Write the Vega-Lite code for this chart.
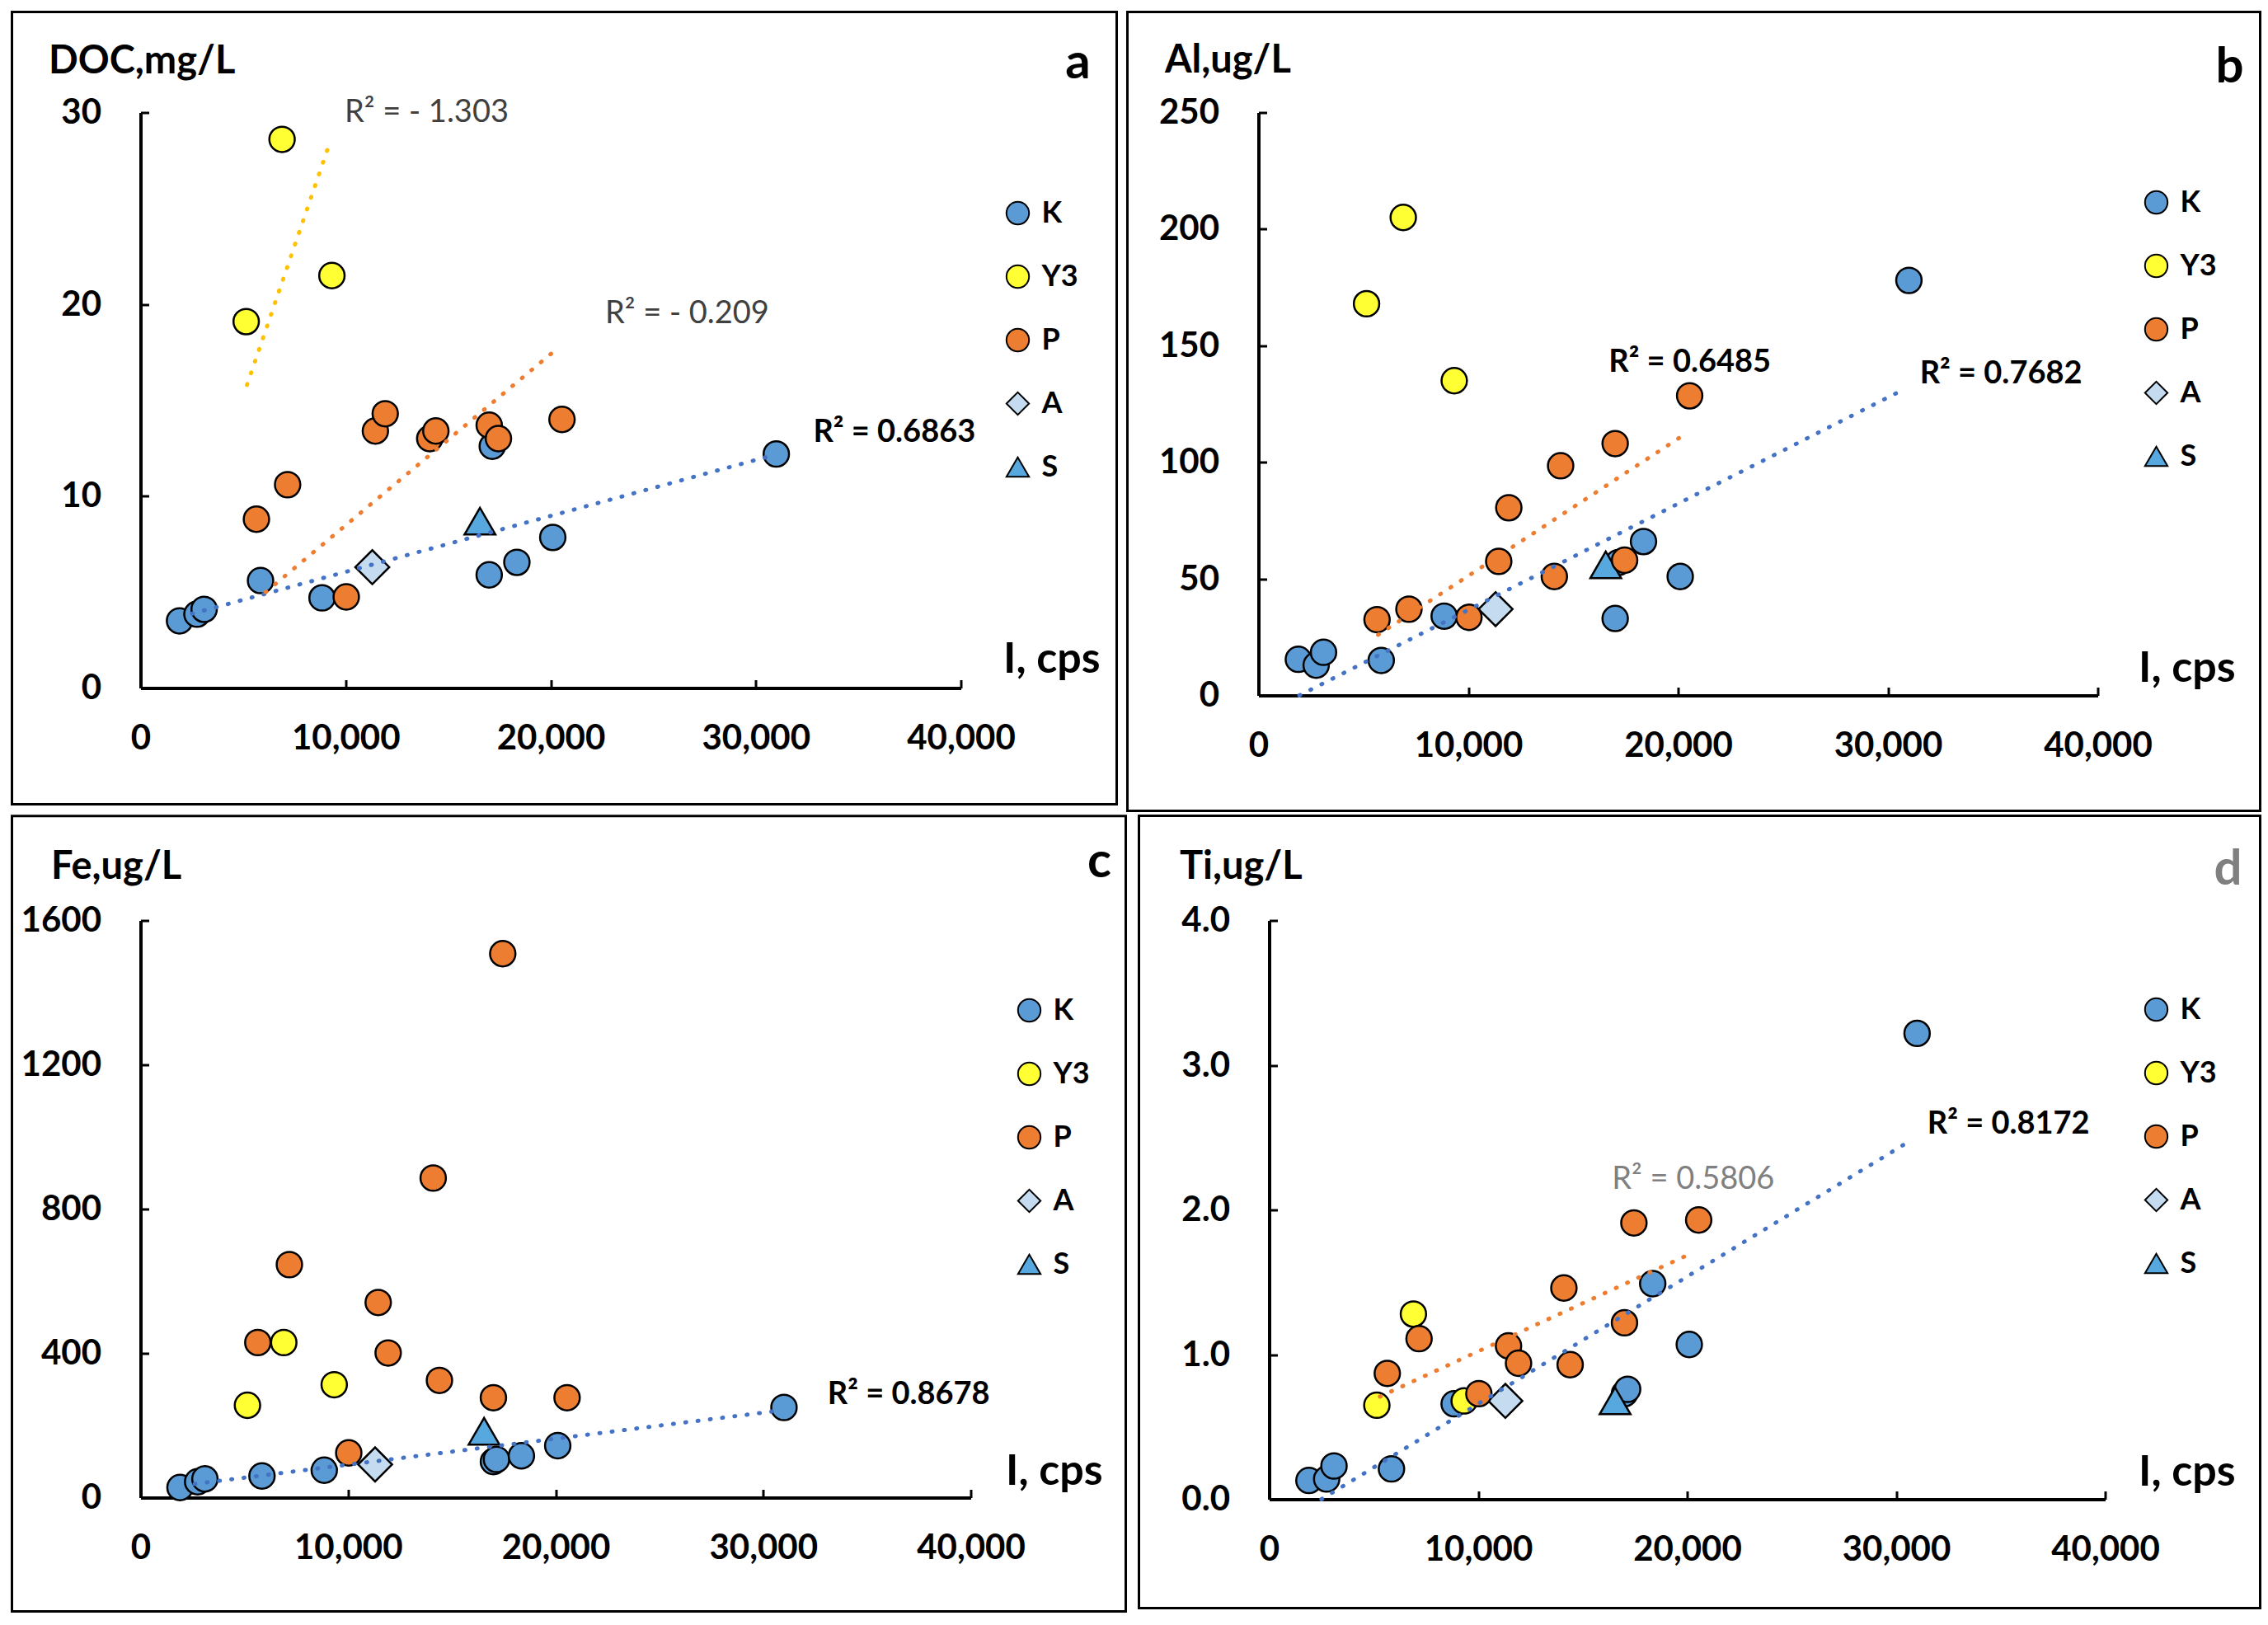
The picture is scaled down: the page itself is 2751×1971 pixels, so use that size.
{
  "$schema": "https://vega.github.io/schema/vega-lite/v6.json",
  "background": "white",
  "padding": {"left": 12.5, "top": 12.5, "right": 0, "bottom": 0},
  "datasets": {
    "pts": [
      {"g": "K", "I": 1900, "DOC": 3.5, "Al": 15.5, "Fe": 28, "Ti": 0.13},
      {"g": "K", "I": 2750, "DOC": 3.85, "Al": 13, "Fe": 44, "Ti": 0.14},
      {"g": "K", "I": 3100, "DOC": 4.1, "Al": 18.5, "Fe": 52, "Ti": 0.23},
      {"g": "K", "I": 5850, "DOC": 5.6, "Al": 15, "Fe": 60, "Ti": 0.21},
      {"g": "K", "I": 8850, "DOC": 4.7, "Al": 34, "Fe": 76, "Ti": 0.66},
      {"g": "K", "I": 17000, "DOC": 5.9, "Al": 33, "Fe": 100, "Ti": 0.73},
      {"g": "K", "I": 17150, "DOC": 12.6, "Al": 57, "Fe": 106, "Ti": 0.76},
      {"g": "K", "I": 18350, "DOC": 6.55, "Al": 66, "Fe": 116, "Ti": 1.49},
      {"g": "K", "I": 20100, "DOC": 7.85, "Al": 51, "Fe": 144, "Ti": 1.07},
      {"g": "K", "I": 31000, "DOC": 12.2, "Al": 178, "Fe": 250, "Ti": 3.22},
      {"g": "Y3", "I": 5150, "DOC": 19.1, "Al": 168, "Fe": 256, "Ti": 0.65},
      {"g": "Y3", "I": 6900, "DOC": 28.6, "Al": 205, "Fe": 430, "Ti": 1.28},
      {"g": "Y3", "I": 9330, "DOC": 21.5, "Al": 135, "Fe": 313, "Ti": 0.68},
      {"g": "A", "I": 11300, "DOC": 6.3, "Al": 37, "Fe": 92, "Ti": 0.68},
      {"g": "S", "I": 16550, "DOC": 8.7, "Al": 56, "Fe": 184, "Ti": 0.68},
      {"g": "P", "I": 5650, "DOC": 8.8, "Al": 32.5, "Fe": 430, "Ti": 0.87},
      {"g": "P", "I": 7170, "DOC": 10.6, "Al": 37, "Fe": 646, "Ti": 1.11},
      {"g": "P", "I": 10030, "DOC": 4.75, "Al": 33.5, "Fe": 124, "Ti": 0.73},
      {"g": "P", "I": 11450, "DOC": 13.4, "Al": 57.5, "Fe": 541, "Ti": 1.06},
      {"g": "P", "I": 11930, "DOC": 14.3, "Al": 80.5, "Fe": 401, "Ti": 0.94},
      {"g": "P", "I": 14100, "DOC": 13.0, "Al": 51, "Fe": 886, "Ti": 1.46},
      {"g": "P", "I": 14400, "DOC": 13.4, "Al": 98.5, "Fe": 325, "Ti": 0.93},
      {"g": "P", "I": 17000, "DOC": 13.7, "Al": 108, "Fe": 277, "Ti": 1.22},
      {"g": "P", "I": 17450, "DOC": 13.0, "Al": 58, "Fe": 1508, "Ti": 1.91},
      {"g": "P", "I": 20550, "DOC": 14.0, "Al": 128.5, "Fe": 277, "Ti": 1.93}
    ],
    "trend": [
      {"panel": "a", "g": "K", "I": 2510, "v": 3.87},
      {"panel": "a", "g": "K", "I": 30730, "v": 12.1},
      {"panel": "a", "g": "P", "I": 6100, "v": 5.0},
      {"panel": "a", "g": "P", "I": 20100, "v": 17.5},
      {"panel": "a", "g": "Y3", "I": 5190, "v": 15.8},
      {"panel": "a", "g": "Y3", "I": 9250, "v": 28.5},
      {"panel": "b", "g": "K", "I": 1950, "v": 0},
      {"panel": "b", "g": "K", "I": 30700, "v": 131},
      {"panel": "b", "g": "P", "I": 5700, "v": 26},
      {"panel": "b", "g": "P", "I": 20400, "v": 112.5},
      {"panel": "c", "g": "K", "I": 2600, "v": 38},
      {"panel": "c", "g": "K", "I": 30600, "v": 240},
      {"panel": "d", "g": "K", "I": 2500, "v": 0},
      {"panel": "d", "g": "K", "I": 30700, "v": 2.48},
      {"panel": "d", "g": "P", "I": 5300, "v": 0.71},
      {"panel": "d", "g": "P", "I": 20200, "v": 1.70}
    ]
  },
  "resolve": {
    "scale": {"fill": "independent", "shape": "independent", "color": "independent", "stroke": "independent"},
    "legend": {"fill": "independent", "shape": "independent", "color": "independent", "stroke": "independent"}
  },
  "vconcat": [
    {
      "resolve": {
        "scale": {"fill": "independent", "shape": "independent", "color": "independent", "stroke": "independent"},
        "legend": {"fill": "independent", "shape": "independent", "color": "independent", "stroke": "independent"}
      },
      "hconcat": [
        {
          "width": 995, "height": 698,
          "layer": [
            {
              "data": {"values": [{}]},
              "mark": {"type": "rect", "fill": "transparent", "stroke": "black", "strokeWidth": 3},
              "encoding": {
                "x": {"datum": -6271, "type": "quantitative"}, "x2": {"datum": 47598},
                "y": {"datum": 35.24, "type": "quantitative"}, "y2": {"datum": -6.06}
              }
            },
            {
              "data": {"name": "pts"},
              "mark": {"type": "point", "filled": true, "strokeWidth": 2.5, "opacity": 1},
              "encoding": {
                "x": {"field": "I", "type": "quantitative", "title": "I, cps", "scale": {"domain": [0, 40000], "nice": false}, "axis": {"values": [0, 10000, 20000, 30000, 40000], "format": ",.0f", "titleX": 1046, "titleY": -35}},
                "y": {"field": "DOC", "type": "quantitative", "title": "DOC,mg/L", "scale": {"domain": [0, 30], "nice": false}, "axis": {"values": [0, 10, 20, 30], "format": "d", "titleX": -112, "titleY": -62}},
                "fill": {"field": "g", "type": "nominal", "scale": {"domain": ["K", "Y3", "P", "A", "S"], "range": ["#5B9BD5", "#FFFF33", "#ED7D31", "#C5DCF0", "#56A8DE"]}, "legend": {"orient": "none", "legendX": 1046, "legendY": 104, "title": null}},
                "shape": {"field": "g", "type": "nominal", "scale": {"domain": ["K", "Y3", "P", "A", "S"], "range": ["circle", "circle", "circle", "diamond", "triangle-up"]}, "legend": {"orient": "none", "legendX": 1046, "legendY": 104, "title": null}},
                "stroke": {"field": "g", "type": "nominal", "scale": {"domain": ["K", "Y3", "P", "A", "S"], "range": ["black", "black", "black", "black", "black"]}, "legend": {"orient": "none", "legendX": 1046, "legendY": 104, "title": null}},
                "size": {"condition": [{"test": "datum.g === 'A'", "value": 1700}, {"test": "datum.g === 'S'", "value": 1400}], "value": 950}
              }
            },
            {
              "data": {"name": "trend"},
              "transform": [{"filter": "datum.panel == 'a'"}],
              "mark": {"type": "line", "strokeDash": [1, 14], "strokeCap": "round", "strokeWidth": 5},
              "encoding": {
                "x": {"field": "I", "type": "quantitative", "title": "I, cps"},
                "y": {"field": "v", "type": "quantitative", "title": "DOC,mg/L"},
                "color": {"field": "g", "type": "nominal", "scale": {"domain": ["K", "Y3", "P"], "range": ["#4472C4", "#FFC000", "#ED7D31"]}, "legend": null},
                "detail": {"field": "g"}
              }
            },
            {
              "data": {"values": [{}]},
              "mark": {"type": "text", "align": "left", "baseline": "middle", "fontSize": 38, "font": "Lato", "color": "#404040"},
              "encoding": {"x": {"datum": 9950, "type": "quantitative"}, "y": {"datum": 30.0, "type": "quantitative"}, "text": {"value": "R² =  - 1.303"}}
            },
            {
              "data": {"values": [{}]},
              "mark": {"type": "text", "align": "left", "baseline": "middle", "fontSize": 38, "font": "Lato", "color": "#404040"},
              "encoding": {"x": {"datum": 22650, "type": "quantitative"}, "y": {"datum": 19.5, "type": "quantitative"}, "text": {"value": "R² = - 0.209"}}
            },
            {
              "data": {"values": [{}]},
              "mark": {"type": "text", "align": "left", "baseline": "middle", "fontSize": 38, "font": "Lato", "fontWeight": "bold", "color": "black"},
              "encoding": {"x": {"datum": 32800, "type": "quantitative"}, "y": {"datum": 13.3, "type": "quantitative"}, "text": {"value": "R² = 0.6863"}}
            },
            {
              "data": {"values": [{}]},
              "mark": {"type": "text", "align": "center", "baseline": "alphabetic", "fontSize": 60, "font": "Lato", "fontWeight": "bold", "color": "black"},
              "encoding": {"x": {"datum": 45709, "type": "quantitative"}, "y": {"datum": 31.8, "type": "quantitative"}, "text": {"value": "a"}}
            }
          ]
        },
        {
          "width": 1018, "height": 707,
          "layer": [
            {
              "data": {"values": [{}]},
              "mark": {"type": "rect", "fill": "transparent", "stroke": "black", "strokeWidth": 3},
              "encoding": {
                "x": {"datum": -6248, "type": "quantitative"}, "x2": {"datum": 47741},
                "y": {"datum": 293.1, "type": "quantitative"}, "y2": {"datum": -49.5}
              }
            },
            {
              "data": {"name": "pts"},
              "mark": {"type": "point", "filled": true, "strokeWidth": 2.5, "opacity": 1},
              "encoding": {
                "x": {"field": "I", "type": "quantitative", "title": "I, cps", "scale": {"domain": [0, 40000], "nice": false}, "axis": {"values": [0, 10000, 20000, 30000, 40000], "format": ",.0f", "titleX": 1067, "titleY": -33}},
                "y": {"field": "Al", "type": "quantitative", "title": "Al,ug/L", "scale": {"domain": [0, 250], "nice": false}, "axis": {"values": [0, 50, 100, 150, 200, 250], "format": "d", "titleX": -114, "titleY": -63}},
                "fill": {"field": "g", "type": "nominal", "scale": {"domain": ["K", "Y3", "P", "A", "S"], "range": ["#5B9BD5", "#FFFF33", "#ED7D31", "#C5DCF0", "#56A8DE"]}, "legend": {"orient": "none", "legendX": 1071, "legendY": 91, "title": null}},
                "shape": {"field": "g", "type": "nominal", "scale": {"domain": ["K", "Y3", "P", "A", "S"], "range": ["circle", "circle", "circle", "diamond", "triangle-up"]}, "legend": {"orient": "none", "legendX": 1071, "legendY": 91, "title": null}},
                "stroke": {"field": "g", "type": "nominal", "scale": {"domain": ["K", "Y3", "P", "A", "S"], "range": ["black", "black", "black", "black", "black"]}, "legend": {"orient": "none", "legendX": 1071, "legendY": 91, "title": null}},
                "size": {"condition": [{"test": "datum.g === 'A'", "value": 1700}, {"test": "datum.g === 'S'", "value": 1400}], "value": 950}
              }
            },
            {
              "data": {"name": "trend"},
              "transform": [{"filter": "datum.panel == 'b'"}],
              "mark": {"type": "line", "strokeDash": [1, 14], "strokeCap": "round", "strokeWidth": 5},
              "encoding": {
                "x": {"field": "I", "type": "quantitative", "title": "I, cps"},
                "y": {"field": "v", "type": "quantitative", "title": "Al,ug/L"},
                "color": {"field": "g", "type": "nominal", "scale": {"domain": ["K", "Y3", "P"], "range": ["#4472C4", "#FFC000", "#ED7D31"]}, "legend": null},
                "detail": {"field": "g"}
              }
            },
            {
              "data": {"values": [{}]},
              "mark": {"type": "text", "align": "left", "baseline": "middle", "fontSize": 38, "font": "Lato", "fontWeight": "bold", "color": "black"},
              "encoding": {"x": {"datum": 16690, "type": "quantitative"}, "y": {"datum": 142.7, "type": "quantitative"}, "text": {"value": "R² = 0.6485"}}
            },
            {
              "data": {"values": [{}]},
              "mark": {"type": "text", "align": "left", "baseline": "middle", "fontSize": 38, "font": "Lato", "fontWeight": "bold", "color": "black"},
              "encoding": {"x": {"datum": 31520, "type": "quantitative"}, "y": {"datum": 137.7, "type": "quantitative"}, "text": {"value": "R² = 0.7682"}}
            },
            {
              "data": {"values": [{}]},
              "mark": {"type": "text", "align": "center", "baseline": "alphabetic", "fontSize": 60, "font": "Lato", "fontWeight": "bold", "color": "black"},
              "encoding": {"x": {"datum": 46287, "type": "quantitative"}, "y": {"datum": 263, "type": "quantitative"}, "text": {"value": "b"}}
            }
          ]
        }
      ],
      "spacing": 361,
      "bounds": "flush"
    },
    {
      "resolve": {
        "scale": {"fill": "independent", "shape": "independent", "color": "independent", "stroke": "independent"},
        "legend": {"fill": "independent", "shape": "independent", "color": "independent", "stroke": "independent"}
      },
      "hconcat": [
        {
          "width": 1007, "height": 700,
          "layer": [
            {
              "data": {"values": [{}]},
              "mark": {"type": "rect", "fill": "transparent", "stroke": "black", "strokeWidth": 3},
              "encoding": {
                "x": {"datum": -6197, "type": "quantitative"}, "x2": {"datum": 47468},
                "y": {"datum": 1890, "type": "quantitative"}, "y2": {"datum": -315.4}
              }
            },
            {
              "data": {"name": "pts"},
              "mark": {"type": "point", "filled": true, "strokeWidth": 2.5, "opacity": 1},
              "encoding": {
                "x": {"field": "I", "type": "quantitative", "title": "I, cps", "scale": {"domain": [0, 40000], "nice": false}, "axis": {"values": [0, 10000, 20000, 30000, 40000], "format": ",.0f", "titleX": 1049, "titleY": -32}},
                "y": {"field": "Fe", "type": "quantitative", "title": "Fe,ug/L", "scale": {"domain": [0, 1600], "nice": false}, "axis": {"values": [0, 400, 800, 1200, 1600], "format": "d", "titleX": -109, "titleY": -65}},
                "fill": {"field": "g", "type": "nominal", "scale": {"domain": ["K", "Y3", "P", "A", "S"], "range": ["#5B9BD5", "#FFFF33", "#ED7D31", "#C5DCF0", "#56A8DE"]}, "legend": {"orient": "none", "legendX": 1060, "legendY": 91, "title": null}},
                "shape": {"field": "g", "type": "nominal", "scale": {"domain": ["K", "Y3", "P", "A", "S"], "range": ["circle", "circle", "circle", "diamond", "triangle-up"]}, "legend": {"orient": "none", "legendX": 1060, "legendY": 91, "title": null}},
                "stroke": {"field": "g", "type": "nominal", "scale": {"domain": ["K", "Y3", "P", "A", "S"], "range": ["black", "black", "black", "black", "black"]}, "legend": {"orient": "none", "legendX": 1060, "legendY": 91, "title": null}},
                "size": {"condition": [{"test": "datum.g === 'A'", "value": 1700}, {"test": "datum.g === 'S'", "value": 1400}], "value": 950}
              }
            },
            {
              "data": {"name": "trend"},
              "transform": [{"filter": "datum.panel == 'c'"}],
              "mark": {"type": "line", "strokeDash": [1, 14], "strokeCap": "round", "strokeWidth": 5},
              "encoding": {
                "x": {"field": "I", "type": "quantitative", "title": "I, cps"},
                "y": {"field": "v", "type": "quantitative", "title": "Fe,ug/L"},
                "color": {"field": "g", "type": "nominal", "scale": {"domain": ["K", "Y3", "P"], "range": ["#4472C4", "#FFC000", "#ED7D31"]}, "legend": null},
                "detail": {"field": "g"}
              }
            },
            {
              "data": {"values": [{}]},
              "mark": {"type": "text", "align": "left", "baseline": "middle", "fontSize": 38, "font": "Lato", "fontWeight": "bold", "color": "black"},
              "encoding": {"x": {"datum": 33100, "type": "quantitative"}, "y": {"datum": 285, "type": "quantitative"}, "text": {"value": "R² = 0.8678"}}
            },
            {
              "data": {"values": [{}]},
              "mark": {"type": "text", "align": "center", "baseline": "alphabetic", "fontSize": 60, "font": "Lato", "fontWeight": "bold", "color": "black"},
              "encoding": {"x": {"datum": 46197, "type": "quantitative"}, "y": {"datum": 1721, "type": "quantitative"}, "text": {"value": "c"}}
            }
          ]
        },
        {
          "width": 1014, "height": 702,
          "layer": [
            {
              "data": {"values": [{}]},
              "mark": {"type": "rect", "fill": "transparent", "stroke": "black", "strokeWidth": 3},
              "encoding": {
                "x": {"datum": -6233, "type": "quantitative"}, "x2": {"datum": 47416},
                "y": {"datum": 4.724, "type": "quantitative"}, "y2": {"datum": -0.752}
              }
            },
            {
              "data": {"name": "pts"},
              "mark": {"type": "point", "filled": true, "strokeWidth": 2.5, "opacity": 1},
              "encoding": {
                "x": {"field": "I", "type": "quantitative", "title": "I, cps", "scale": {"domain": [0, 40000], "nice": false}, "axis": {"values": [0, 10000, 20000, 30000, 40000], "format": ",.0f", "titleX": 1054, "titleY": -33}},
                "y": {"field": "Ti", "type": "quantitative", "title": "Ti,ug/L", "scale": {"domain": [0, 4], "nice": false}, "axis": {"values": [0, 1, 2, 3, 4], "format": ".1f", "titleX": -109, "titleY": -65}},
                "fill": {"field": "g", "type": "nominal", "scale": {"domain": ["K", "Y3", "P", "A", "S"], "range": ["#5B9BD5", "#FFFF33", "#ED7D31", "#C5DCF0", "#56A8DE"]}, "legend": {"orient": "none", "legendX": 1058, "legendY": 90, "title": null}},
                "shape": {"field": "g", "type": "nominal", "scale": {"domain": ["K", "Y3", "P", "A", "S"], "range": ["circle", "circle", "circle", "diamond", "triangle-up"]}, "legend": {"orient": "none", "legendX": 1058, "legendY": 90, "title": null}},
                "stroke": {"field": "g", "type": "nominal", "scale": {"domain": ["K", "Y3", "P", "A", "S"], "range": ["black", "black", "black", "black", "black"]}, "legend": {"orient": "none", "legendX": 1058, "legendY": 90, "title": null}},
                "size": {"condition": [{"test": "datum.g === 'A'", "value": 1700}, {"test": "datum.g === 'S'", "value": 1400}], "value": 950}
              }
            },
            {
              "data": {"name": "trend"},
              "transform": [{"filter": "datum.panel == 'd'"}],
              "mark": {"type": "line", "strokeDash": [1, 14], "strokeCap": "round", "strokeWidth": 5},
              "encoding": {
                "x": {"field": "I", "type": "quantitative", "title": "I, cps"},
                "y": {"field": "v", "type": "quantitative", "title": "Ti,ug/L"},
                "color": {"field": "g", "type": "nominal", "scale": {"domain": ["K", "Y3", "P"], "range": ["#4472C4", "#FFC000", "#ED7D31"]}, "legend": null},
                "detail": {"field": "g"}
              }
            },
            {
              "data": {"values": [{}]},
              "mark": {"type": "text", "align": "left", "baseline": "middle", "fontSize": 38, "font": "Lato", "color": "#808080"},
              "encoding": {"x": {"datum": 16400, "type": "quantitative"}, "y": {"datum": 2.21, "type": "quantitative"}, "text": {"value": "R² = 0.5806"}}
            },
            {
              "data": {"values": [{}]},
              "mark": {"type": "text", "align": "left", "baseline": "middle", "fontSize": 38, "font": "Lato", "fontWeight": "bold", "color": "black"},
              "encoding": {"x": {"datum": 31490, "type": "quantitative"}, "y": {"datum": 2.59, "type": "quantitative"}, "text": {"value": "R² = 0.8172"}}
            },
            {
              "data": {"values": [{}]},
              "mark": {"type": "text", "align": "center", "baseline": "alphabetic", "fontSize": 60, "font": "Lato", "fontWeight": "bold", "color": "#7F7F7F"},
              "encoding": {"x": {"datum": 45878, "type": "quantitative"}, "y": {"datum": 4.25, "type": "quantitative"}, "text": {"value": "d"}}
            }
          ]
        }
      ],
      "spacing": 362,
      "bounds": "flush"
    }
  ],
  "spacing": 2,
  "bounds": "full",
  "config": {
    "view": {"stroke": null},
    "font": "Lato",
    "axis": {
      "grid": false, "domainColor": "black", "domainWidth": 4, "tickColor": "black", "tickWidth": 3, "tickSize": -10,
      "labelFont": "Lato", "labelFontSize": 42, "labelFontWeight": "bold", "labelColor": "black", "labelFlush": false, "labelOverlap": false,
      "titleFont": "Lato", "titleFontWeight": "bold", "titleColor": "black"
    },
    "axisX": {"labelPadding": 51, "titleFontSize": 52, "titleAlign": "left", "titleBaseline": "middle", "titleAngle": 0},
    "axisY": {"labelPadding": 58, "titleFontSize": 47, "titleAlign": "left", "titleBaseline": "middle", "titleAngle": 0},
    "legend": {
      "labelFont": "Lato", "labelFontSize": 36, "labelFontWeight": "bold", "labelColor": "black",
      "symbolSize": 750, "symbolStrokeWidth": 2, "rowPadding": 41, "labelOffset": 11, "padding": 0
    }
  }
}
